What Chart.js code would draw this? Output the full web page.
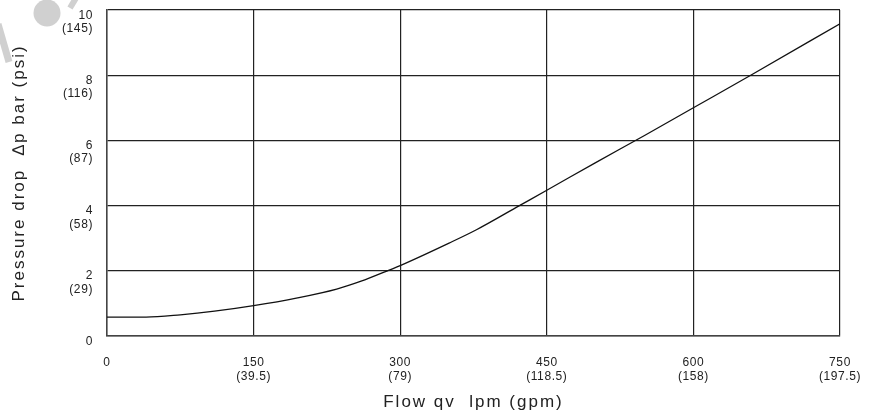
<!DOCTYPE html>
<html>
<head>
<meta charset="utf-8">
<script src="https://cdn.jsdelivr.net/npm/chart.js@4/dist/chart.umd.min.js"></script>
<style>
  html, body { margin: 0; padding: 0; background: #ffffff; }
  #wrap { width: 880px; height: 419px; position: relative; }
</style>
</head>
<body>
<div id="wrap"><canvas id="c" width="880" height="419"></canvas></div>
<script>
// Flow (lpm) sample points
const flowLpm = [0, 40, 75, 110, 150, 195, 235, 260, 287, 300, 350, 378, 422, 450, 500, 550, 600, 660, 750];
// Pressure drop (bar) at those flows
const pressureBar = [0.58, 0.58, 0.65, 0.76, 0.93, 1.17, 1.44, 1.68, 2.0, 2.16, 2.85, 3.26, 4.0, 4.47, 5.32, 6.15, 7.0, 8.02, 9.58];

// Tick labels
const xTickValues = [0, 150, 300, 450, 600, 750];
const xTickGpm = ["", "(39.5)", "(79)", "(118.5)", "(158)", "(197.5)"];
const yTickValues = [0, 2, 4, 6, 8, 10];
const yTickPsi = ["", "(29)", "(58)", "(87)", "(116)", "(145)"];

const xTitle = "Flow qv  lpm (gpm)";
const yTitle = "Pressure drop  \u2206p bar (psi)";

const FONT = "'Liberation Sans', Arial, Helvetica, sans-serif";
const TITLE_SPACING = '2px';
const TICK_SPACING = '0.6px';

const points = flowLpm.map((x, i) => ({ x: x, y: pressureBar[i] }));

const styling = {
  id: 'styling',
  beforeDraw(chart) {
    const ctx = chart.ctx;
    ctx.save();
    ctx.fillStyle = '#d0d0d0';
    ctx.strokeStyle = '#d0d0d0';
    ctx.beginPath();
    ctx.arc(47, 13, 13.5, 0, Math.PI * 2);
    ctx.fill();
    ctx.lineWidth = 7;
    ctx.lineCap = 'butt';
    ctx.beginPath();
    ctx.moveTo(-2, 24);
    ctx.lineTo(9, 62);
    ctx.stroke();
    ctx.lineWidth = 6;
    ctx.beginPath();
    ctx.moveTo(70, 8);
    ctx.lineTo(76, -2);
    ctx.stroke();
    ctx.restore();
    // titles are drawn with the grid layer (before datasets)
    ctx.letterSpacing = TITLE_SPACING;
  },
  afterDatasetsDraw(chart) {
    // tick labels are drawn after datasets (ticks.z = 1)
    chart.ctx.letterSpacing = TICK_SPACING;
  },
  afterDraw(chart) {
    chart.ctx.letterSpacing = '0px';
  }
};

new Chart(document.getElementById('c'), {
  type: 'line',
  data: {
    datasets: [{
      data: points,
      borderColor: '#111111',
      borderWidth: 1.3,
      pointRadius: 0,
      fill: false,
      tension: 0,
      cubicInterpolationMode: 'monotone'
    }]
  },
  plugins: [styling],
  options: {
    responsive: false,
    animation: false,
    devicePixelRatio: 1,
    layout: { padding: { left: 0, right: 40, top: 10, bottom: 0 } },
    plugins: { legend: { display: false }, tooltip: { enabled: false } },
    scales: {
      x: {
        type: 'linear',
        min: 0, max: 750,
        afterBuildTicks(scale) { scale.ticks = xTickValues.map(v => ({ value: v })); },
        afterFit(scale) { scale.height = 83; scale.paddingLeft = 0; scale.paddingRight = 0; },
        border: { display: true, color: '#444444', width: 1.5 },
        grid: { color: '#222222', lineWidth: 1.2, drawTicks: false },
        ticks: {
          z: 1,
          padding: 19.5,
          color: '#222222',
          font: { family: FONT, size: 12, lineHeight: 1.15 },
          maxRotation: 0,
          autoSkip: false,
          callback(v) {
            const i = xTickValues.indexOf(v);
            return i > 0 ? [String(v), xTickGpm[i]] : [String(v)];
          }
        },
        title: {
          display: true,
          text: xTitle,
          color: '#222222',
          font: { family: FONT, size: 17, lineHeight: 1.2 },
          padding: { top: 6, bottom: 6 }
        }
      },
      y: {
        type: 'linear',
        min: 0, max: 10,
        afterBuildTicks(scale) { scale.ticks = yTickValues.map(v => ({ value: v })); },
        afterFit(scale) { scale.width = 107; scale.paddingTop = 0; scale.paddingBottom = 0; },
        border: { display: true, color: '#444444', width: 1.5 },
        grid: { color: '#222222', lineWidth: 1.2, drawTicks: false },
        ticks: {
          z: 1,
          padding: 14,
          labelOffset: 12,
          color: '#222222',
          font: { family: FONT, size: 12, lineHeight: 1.12 },
          autoSkip: false,
          callback(v) {
            const i = yTickValues.indexOf(v);
            return i > 0 ? [String(v), yTickPsi[i]] : [String(v), ""];
          }
        },
        title: {
          display: true,
          text: yTitle,
          color: '#222222',
          font: { family: FONT, size: 17, lineHeight: 1.2 },
          padding: { top: 9, bottom: 9 }
        }
      }
    }
  }
});
</script>
</body>
</html>
